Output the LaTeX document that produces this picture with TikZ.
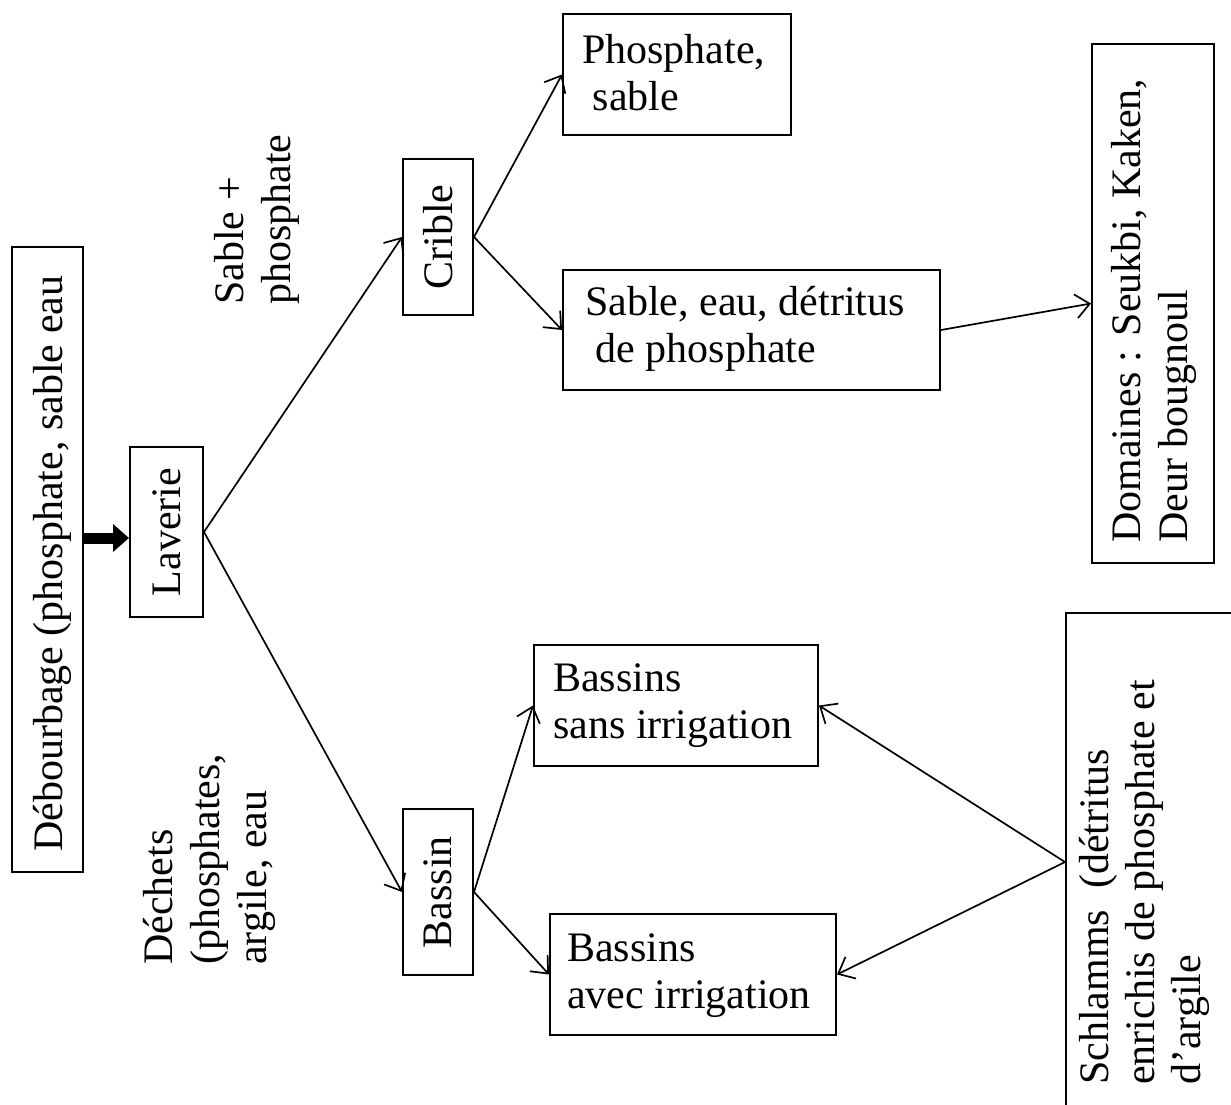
\documentclass[tikz,border=0pt]{standalone}
\usepackage{fontspec}
\setmainfont{Liberation Serif}
\usetikzlibrary{arrows.meta,calc}
\begin{document}
\begin{tikzpicture}[x=1pt,y=-1pt,
  box/.style={draw, line width=2pt, inner sep=0pt},
  txt/.style={font=\fontsize{42}{47}\selectfont, inner sep=0pt, align=left},
  rtxt/.style={txt, rotate=90},
  conn/.style={line width=1.7pt, -{Straight Barb[length=14pt,width=24pt]}},
  fatarrow/.style={line width=11pt, -{Triangle[length=16pt,width=27pt]}},
]
\useasboundingbox (0,0) rectangle (1231,1104);
\clip (0,0) rectangle (1231,1104);

% boxes
\node[box, minimum width=71pt,  minimum height=625pt] (deb)  at (47.5,559.5) {};
\node[box, minimum width=73pt,  minimum height=170pt] (lav)  at (166.5,532) {};
\node[box, minimum width=70pt,  minimum height=156pt] (crib) at (438,237) {};
\node[box, minimum width=70pt,  minimum height=166pt] (bas)  at (438,892) {};
\node[box, minimum width=228pt, minimum height=121pt] (phos) at (677,74.5) {};
\node[box, minimum width=377pt, minimum height=120pt] (sab)  at (751.5,330) {};
\node[box, minimum width=122pt, minimum height=519pt] (dom)  at (1153,303.5) {};
\node[box, minimum width=284pt, minimum height=121pt] (sans) at (676,705.5) {};
\node[box, minimum width=286pt, minimum height=121pt] (avec) at (693,974.5) {};
\node[box, minimum width=174pt, minimum height=498pt] (sch)  at (1153,862) {};

% texts (base anchor = baseline of the last line)
\node[rtxt, anchor=base west] (debt) at (62,852) {Débourbage (phosphate, sable eau};
\node[rtxt] (lavt) at (lav.center) {Laverie};
\node[rtxt] (cribt) at (crib.center) {Crible};
\node[rtxt] (bast) at (bas.center) {Bassin};
\node[txt, anchor=base west] (phost) at (582,110) {Phosphate,\\\hspace*{.25em}sable};
\node[txt, anchor=base west] (sabt) at (585,362) {Sable, eau, détritus\\\hspace*{.25em}de phosphate};
\node[txt, anchor=base west] (sanst) at (553,738) {Bassins\\sans irrigation};
\node[txt, anchor=base west] (avect) at (567,1008) {Bassins\\avec irrigation};
\node[rtxt, anchor=base west] (domt) at (1187,543) {Domaines : Seukbi, Kaken,\\Deur bougnoul};
\node[rtxt, anchor=base west, font=\fontsize{42}{46}\selectfont] (scht) at (1200,1085) {Schlamms\ \ (détritus\\enrichis de phosphate et\\d’argile};
\node[rtxt, anchor=base west] (sabpt) at (290,305) {Sable +\\phosphate};
\node[rtxt, anchor=base west] (decht) at (266,965) {Déchets\\(phosphates,\\argile, eau};

% connectors
\draw[fatarrow] ($(lav.west -| deb.east)+(0,6)$) -- ($(lav.west)+(0,6)$);
\draw[conn] (lav.east) -- (crib.west);
\draw[conn] (lav.east) -- (bas.west);
\draw[conn] (crib.east) -- (phos.west);
\draw[conn] (crib.east) -- (sab.west);
\draw[conn] (sab.east) -- (dom.west);
\draw[conn] (bas.east) -- (sans.west);
\draw[conn] (bas.east) -- (avec.west);
\draw[conn] (sch.west) -- (sans.east);
\draw[conn] (sch.west) -- (avec.east);
\end{tikzpicture}
\end{document}
